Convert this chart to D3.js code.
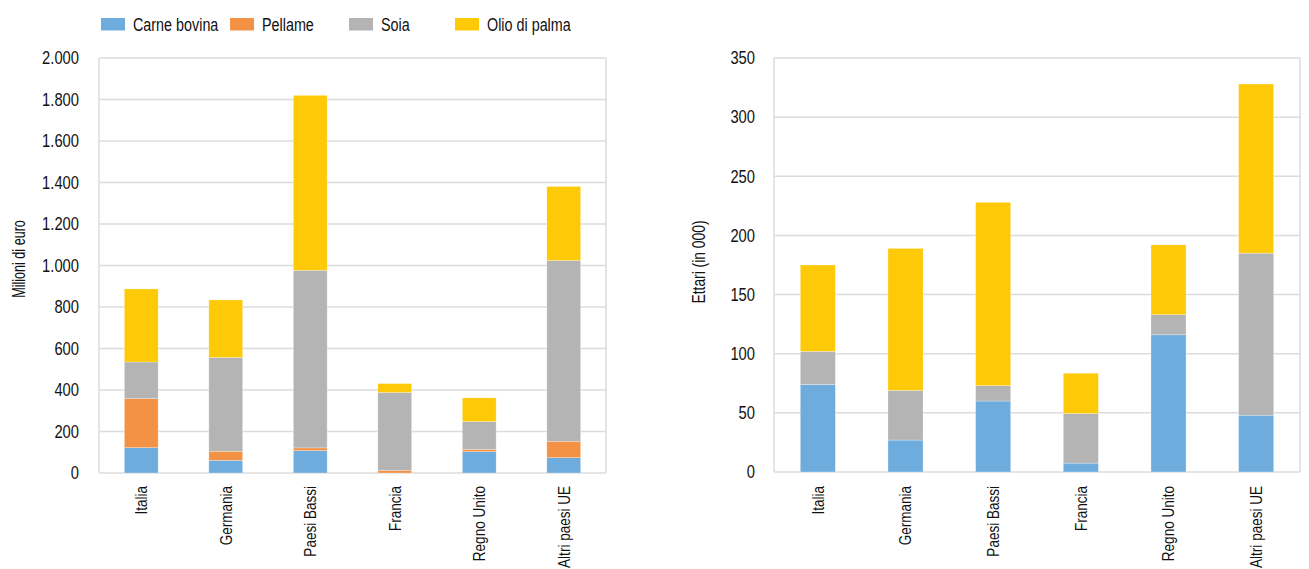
<!DOCTYPE html>
<html><head><meta charset="utf-8">
<script src="https://cdn.jsdelivr.net/npm/d3@7"></script>
<style>
html,body{margin:0;padding:0;background:#fff;}
svg{display:block;font-family:'Liberation Sans',Arial,sans-serif;}
</style></head>
<body>
<svg id="chart" width="1309" height="569"></svg>
<script>
// ---- data ----
const categories = ["Italia","Germania","Paesi Bassi","Francia","Regno Unito","Altri paesi UE"];
const seriesNames = ["Carne bovina","Pellame","Soia","Olio di palma"];
const seriesColors = ["#6EACDD","#F39244","#B4B4B4","#FEC907"];

// Milioni di euro
const euroCarne  = [122, 61, 108, 0, 103, 74];
const euroPellame= [237, 44, 13, 12, 11, 79];
const euroSoia   = [176, 452, 856, 376, 134, 871];
const euroPalma  = [352, 277, 843, 43, 114, 357];
const euroTicks  = [0,200,400,600,800,1000,1200,1400,1600,1800,2000];

// Ettari (in 000)
const haCarne  = [74, 27, 60, 7.5, 116, 48];
const haPellame= [0, 0, 0, 0, 0, 0];
const haSoia   = [28, 42, 13, 42, 17, 137];
const haPalma  = [73, 120, 155, 34, 59, 143];
const haTicks  = [0,50,100,150,200,250,300,350];

const SX = 0.82; // horizontal condensing of text (narrow face)
const svg = d3.select("#chart");
const fmt = d3.formatLocale({decimal:",",thousands:".",grouping:[3],currency:["€",""]}).format(",d");

function rows(a,b,c,d){
  return categories.map((cat,i)=>({cat, [seriesNames[0]]:a[i], [seriesNames[1]]:b[i], [seriesNames[2]]:c[i], [seriesNames[3]]:d[i]}));
}

function drawPanel(cfg){
  const g = svg.append("g");
  const x = d3.scaleBand().domain(categories).range([cfg.x0,cfg.x1]).paddingInner(0.6).paddingOuter(0.3);
  const y = d3.scaleLinear().domain([0,cfg.max]).range([cfg.y0,cfg.y1]);
  // gridlines
  g.append("g").selectAll("line").data(cfg.ticks).join("line")
    .attr("x1",cfg.x0).attr("x2",cfg.x1)
    .attr("y1",d=>y(d)).attr("y2",d=>y(d))
    .attr("stroke","#dcdcdc").attr("stroke-width",1.5);
  // plot border verticals
  g.append("line").attr("x1",cfg.x0).attr("x2",cfg.x0).attr("y1",y(cfg.max)).attr("y2",y(0)).attr("stroke","#dcdcdc").attr("stroke-width",1.5);
  g.append("line").attr("x1",cfg.x1).attr("x2",cfg.x1).attr("y1",y(cfg.max)).attr("y2",y(0)).attr("stroke","#dcdcdc").attr("stroke-width",1.5);
  // bars
  const stack = d3.stack().keys(seriesNames)(cfg.data);
  g.append("g").selectAll("g").data(stack).join("g")
    .attr("fill",(d,i)=>seriesColors[i])
    .selectAll("rect").data(d=>d).join("rect")
    .attr("x",d=>x(d.data.cat)).attr("width",x.bandwidth())
    .attr("y",d=>y(d[1])).attr("height",d=>Math.max(0,y(d[0])-y(d[1])))
    .attr("stroke","rgba(255,255,255,0.45)").attr("stroke-width",0.6);
  // y axis
  const ya = g.append("g").attr("transform",`translate(${cfg.x0},0)`)
    .call(d3.axisLeft(y).tickValues(cfg.ticks).tickFormat(fmt).tickSize(0).tickPadding(cfg.tickPad));
  ya.select(".domain").remove();
  ya.selectAll("text").attr("font-size",18).attr("fill","#111").attr("font-family","inherit")
    .attr("x",-cfg.tickPad/SX).attr("transform",`scale(${SX},1)`);
  // x axis
  const xa = g.append("g").attr("transform",`translate(0,${cfg.y0})`)
    .call(d3.axisBottom(x).tickSize(0));
  xa.select(".domain").remove();
  xa.selectAll("text").attr("font-size",16.5).attr("fill","#111").attr("font-family","inherit")
    .attr("transform",`rotate(-90) scale(${SX},1)`).attr("text-anchor","end")
    .attr("x",-(486-cfg.y0)/SX).attr("y",0).attr("dy","0.35em");
  // axis title
  g.append("text").attr("transform",`translate(${cfg.titleX},${cfg.titleY}) rotate(-90) scale(${cfg.titleSX},1)`)
    .attr("text-anchor","middle").attr("font-size",18).attr("fill","#111").text(cfg.title);
}

drawPanel({x0:99,x1:606,y0:473,y1:58,max:2000,ticks:euroTicks,data:rows(euroCarne,euroPellame,euroSoia,euroPalma),
  tickPad:20,title:"Milioni di euro",titleX:25,titleY:259,titleSX:0.7});
drawPanel({x0:774,x1:1300,y0:472,y1:58,max:350,ticks:haTicks,data:rows(haCarne,haPellame,haSoia,haPalma),
  tickPad:19,title:"Ettari (in 000)",titleX:705,titleY:262,titleSX:0.77});

// legend
const legendX = [101,230,349,455];
const lg = svg.append("g");
seriesNames.forEach((n,i)=>{
  lg.append("rect").attr("x",legendX[i]).attr("y",18).attr("width",24).attr("height",12.5).attr("fill",seriesColors[i]);
  lg.append("text").attr("transform",`translate(${legendX[i]+32},30.5) scale(${SX},1)`)
    .attr("font-size",17.5).attr("fill","#111").text(n);
});
</script>
</body></html>
